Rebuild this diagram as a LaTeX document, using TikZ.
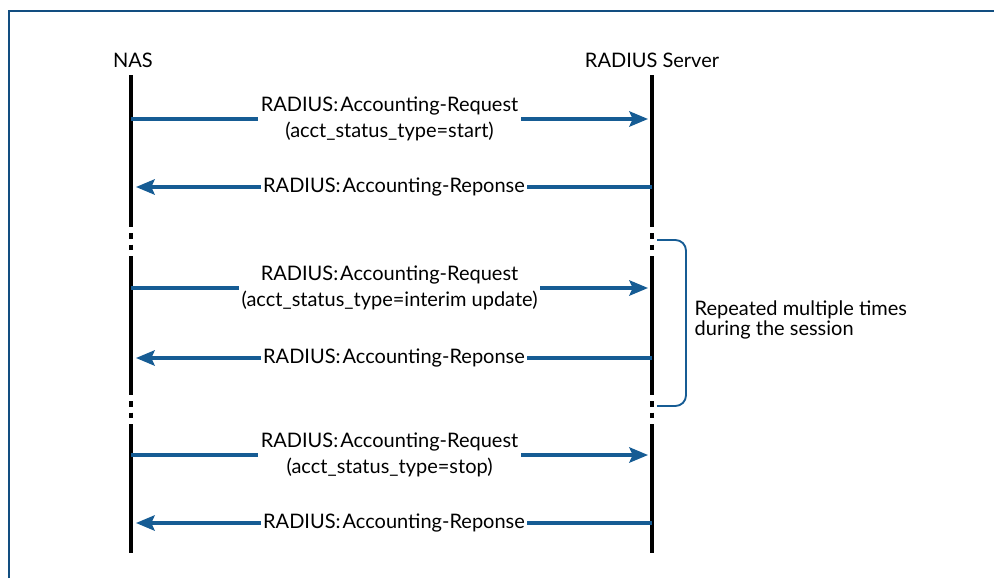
\documentclass[tikz,border=0pt]{standalone}
\usepackage{fontspec}
\setmainfont{Lato}
\usetikzlibrary{arrows.meta, positioning}

\definecolor{msgblue}{RGB}{22,92,148}
\definecolor{edgeblue}{RGB}{18,78,128}

\begin{document}
\begin{tikzpicture}[x=0.75pt, y=-0.75pt,
  lane/.style={line width=2.5pt, black},
  gapline/.style={line width=2.5pt, black, dash pattern=on 4pt off 4.5pt},
  msg/.style={line width=2.4pt, msgblue, -{Stealth[length=14pt, width=11.5pt, inset=2.5pt]}},
  lbl/.style={fill=white, text=black, inner xsep=2pt, inner ysep=1pt, align=center, font=\fontsize{15}{19.5}\selectfont},
  head/.style={font=\fontsize{15}{19.5}\selectfont},
  brace/.style={line width=1.4pt, msgblue, rounded corners=8pt}
]
\useasboundingbox (0,0) rectangle (994,578);

% Frame
\draw[edgeblue, line width=1.5pt] (9,578) -- (9,11) -- (994,11);

% Headers
\node[head] (nas) at (133,60) {NAS};
\node[head] (srv) at (652,60) {RADIUS Server};

% Lifelines
\coordinate (nA) at (131,75);  \coordinate (nB) at (131,222);
\coordinate (nC) at (131,257); \coordinate (nD) at (131,390);
\coordinate (nE) at (131,427); \coordinate (nF) at (131,553);
\coordinate (sA) at (652,75);  \coordinate (sB) at (652,222);
\coordinate (sC) at (652,257); \coordinate (sD) at (652,390);
\coordinate (sE) at (652,427); \coordinate (sF) at (652,553);
\draw[lane] (nA) -- (nB);  \draw[gapline] (nB) -- (nC);
\draw[lane] (nC) -- (nD);  \draw[gapline] (nD) -- (nE);
\draw[lane] (nE) -- (nF);
\draw[lane] (sA) -- (sB);  \draw[gapline] (sB) -- (sC);
\draw[lane] (sC) -- (sD);  \draw[gapline] (sD) -- (sE);
\draw[lane] (sE) -- (sF);

% Messages
\coordinate (n1) at (131,119); \coordinate (s1) at (648,119);
\coordinate (n2) at (136,187); \coordinate (s2) at (652,187);
\coordinate (n3) at (131,288); \coordinate (s3) at (648,288);
\coordinate (n4) at (136,358); \coordinate (s4) at (652,358);
\coordinate (n5) at (131,455); \coordinate (s5) at (648,455);
\coordinate (n6) at (136,523); \coordinate (s6) at (652,523);

\draw[msg] (n1) -- node[lbl] {RADIUS:\hspace{1.5pt}Accounting-Request\\(acct\_status\_type=start)} (s1);
\draw[msg] (s2) -- node[lbl] {RADIUS:\hspace{1.5pt}Accounting-Reponse} (n2);
\draw[msg] (n3) -- node[lbl] {RADIUS:\hspace{1.5pt}Accounting-Request\\(acct\_status\_type=interim update)} (s3);
\draw[msg] (s4) -- node[lbl] {RADIUS:\hspace{1.5pt}Accounting-Reponse} (n4);
\draw[msg] (n5) -- node[lbl] {RADIUS:\hspace{1.5pt}Accounting-Request\\(acct\_status\_type=stop)} (s5);
\draw[msg] (s6) -- node[lbl] {RADIUS:\hspace{1.5pt}Accounting-Reponse} (n6);

% Repeat bracket
\coordinate (bTop) at (657,240);
\coordinate (bBot) at (657,406);
\draw[brace] (bTop) -- ++(29,0) |- (bBot);
\node[font=\fontsize{15}{13.5}\selectfont, align=left, anchor=west] (rep) at (690,320) {Repeated multiple times\\during the session};

\end{tikzpicture}
\end{document}
